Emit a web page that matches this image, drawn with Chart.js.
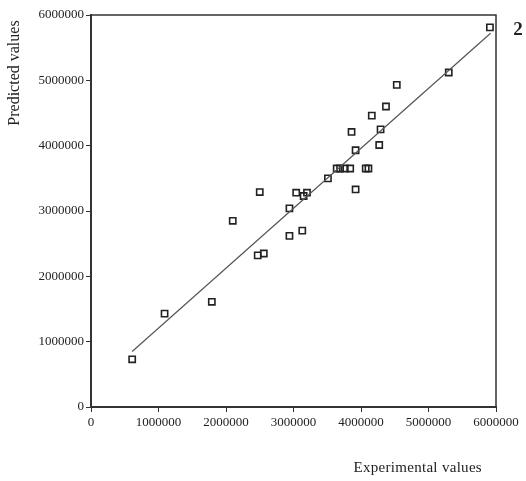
<!DOCTYPE html>
<html>
<head>
<meta charset="utf-8">
<script src="https://cdn.jsdelivr.net/npm/chart.js@4"></script>
<style>
  html, body { margin: 0; padding: 0; background: #fff; }
  #wrap { width: 526px; height: 481px; position: relative; }
</style>
</head>
<body>
<div id="wrap"><canvas id="c" width="526" height="481"></canvas></div>
<script>
// Data
const experimental = [0.61e6, 1.09e6, 1.79e6, 2.10e6, 2.47e6, 2.56e6, 2.50e6, 2.94e6, 2.94e6, 3.13e6,
  3.04e6, 3.20e6, 3.15e6, 3.51e6, 3.64e6, 3.69e6, 3.76e6, 3.84e6, 4.07e6, 4.11e6,
  3.92e6, 3.92e6, 3.86e6, 4.27e6, 4.29e6, 4.16e6, 4.37e6, 4.53e6, 5.30e6, 5.91e6];
const predicted = [0.73e6, 1.43e6, 1.61e6, 2.85e6, 2.32e6, 2.35e6, 3.29e6, 3.04e6, 2.62e6, 2.70e6,
  3.28e6, 3.28e6, 3.23e6, 3.50e6, 3.65e6, 3.65e6, 3.65e6, 3.65e6, 3.65e6, 3.65e6,
  3.33e6, 3.93e6, 4.21e6, 4.01e6, 4.25e6, 4.46e6, 4.60e6, 4.93e6, 5.12e6, 5.81e6];
const fitX = [0.61e6, 5.92e6];
const fitY = [0.85e6, 5.72e6];
const tickValues = [0, 1000000, 2000000, 3000000, 4000000, 5000000, 6000000];
const xTitle = 'Experimental values';
const yTitle = 'Predicted values';
const panelLabel = '2';

const serif = '"Liberation Serif", "DejaVu Serif", serif';
const ink = '#222';

const scatterPts = experimental.map((x, i) => ({ x: x, y: predicted[i] }));
const fitPts = fitX.map((x, i) => ({ x: x, y: fitY[i] }));

const decor = {
  id: 'decor',
  afterDraw(chart) {
    const ctx = chart.ctx;
    const a = chart.chartArea;
    ctx.save();
    ctx.strokeStyle = '#333';
    ctx.lineWidth = 1.5;
    ctx.beginPath();
    ctx.moveTo(a.left, a.top);
    ctx.lineTo(a.right, a.top);
    ctx.lineTo(a.right, a.bottom);
    ctx.stroke();
    ctx.fillStyle = ink;
    ctx.font = '15px ' + serif;
    ctx.textAlign = 'right';
    ctx.textBaseline = 'middle';
    try { ctx.letterSpacing = '0.3px'; } catch (e) {}
    ctx.fillText(xTitle, 482, 468);
    try { ctx.letterSpacing = '0px'; } catch (e) {}
    ctx.save();
    ctx.translate(15, 73);
    ctx.rotate(-Math.PI / 2);
    ctx.font = '16px ' + serif;
    ctx.textAlign = 'center';
    ctx.textBaseline = 'middle';
    ctx.fillText(yTitle, 0, 0);
    ctx.restore();
    ctx.font = 'bold 19px ' + serif;
    ctx.textAlign = 'center';
    ctx.textBaseline = 'middle';
    ctx.fillText(panelLabel, 518, 30);
    ctx.restore();
  }
};

new Chart(document.getElementById('c'), {
  type: 'scatter',
  data: {
    datasets: [
      {
        type: 'line',
        data: fitPts,
        borderColor: '#555',
        borderWidth: 1.2,
        pointRadius: 0,
        fill: false,
        tension: 0
      },
      {
        data: scatterPts,
        pointStyle: 'rect',
        pointRadius: 4.4,
        borderWidth: 1.6,
        borderColor: '#222',
        backgroundColor: 'rgba(0,0,0,0)'
      }
    ]
  },
  options: {
    responsive: false,
    animation: false,
    devicePixelRatio: 1,
    layout: { padding: { top: 15, right: 30, left: 0, bottom: 0 } },
    plugins: { legend: { display: false }, tooltip: { enabled: false } },
    scales: {
      x: {
        type: 'linear',
        min: 0, max: 6000000,
        afterBuildTicks(s) { s.ticks = tickValues.map(v => ({ value: v })); },
        afterFit(s) { s.height = 74; },
        ticks: {
          font: { family: serif, size: 13 },
          color: ink,
          padding: 3,
          maxRotation: 0,
          autoSkip: false,
          callback: v => String(v)
        },
        grid: { drawOnChartArea: false, drawTicks: true, tickLength: 5, color: '#333', lineWidth: 1 },
        border: { display: true, color: '#333', width: 2 }
      },
      y: {
        type: 'linear',
        min: 0, max: 6000000,
        afterBuildTicks(s) { s.ticks = tickValues.map(v => ({ value: v })); },
        afterFit(s) { s.width = 91; },
        ticks: {
          font: { family: serif, size: 13 },
          color: ink,
          padding: 2,
          autoSkip: false,
          callback: v => String(v)
        },
        grid: { drawOnChartArea: false, drawTicks: true, tickLength: 5, color: '#333', lineWidth: 1 },
        border: { display: true, color: '#333', width: 2 }
      }
    }
  },
  plugins: [decor]
});
</script>
</body>
</html>
